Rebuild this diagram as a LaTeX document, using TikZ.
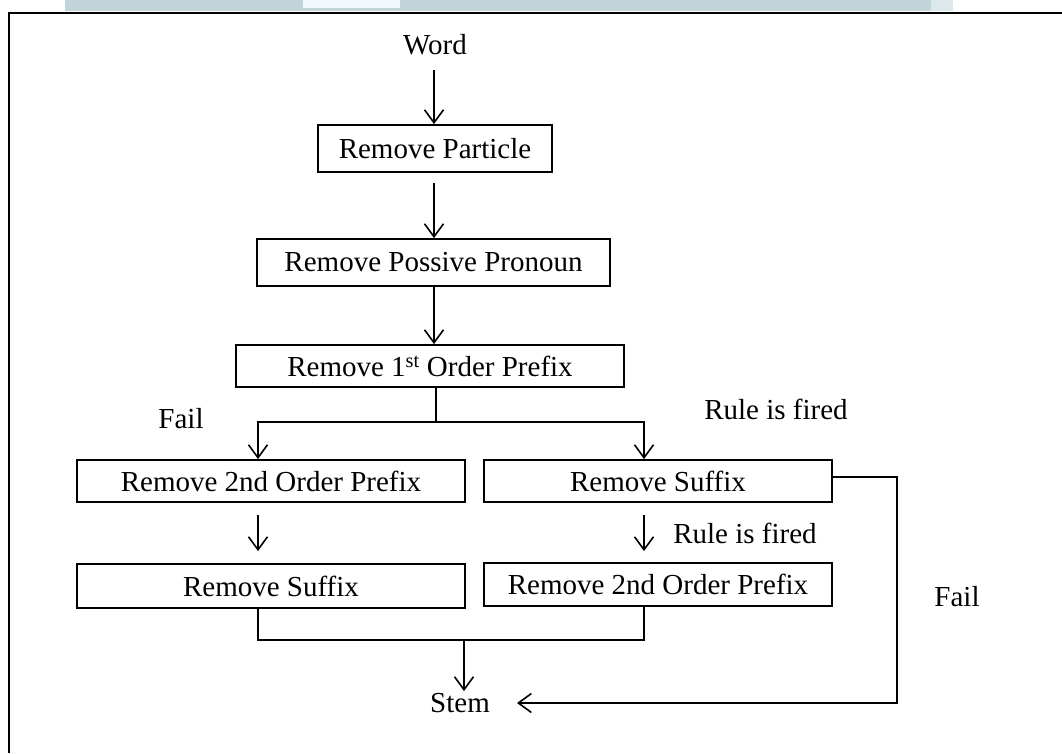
\documentclass[tikz,border=0pt]{standalone}
\usepackage{fontspec}
\setmainfont{Liberation Serif}
\usetikzlibrary{arrows.meta,calc}
\definecolor{barteal}{HTML}{C1D4DA}
\definecolor{barwhite}{HTML}{F0F8FB}
\definecolor{barlight}{HTML}{DCE8EC}
\begin{document}
\begin{tikzpicture}[x=1pt,y=-1pt,
  every node/.style={font=\fontsize{29}{34}\selectfont, inner sep=0pt},
  procbox/.style={draw, line width=1.8pt, minimum height=#1},
  procbox/.default=44,
  conn/.style={line width=1.6pt},
  arr/.style={conn, -{Straight Barb[length=13pt,width=19pt,line width=1.6pt]}},
  lbl/.style={anchor=center}]
\useasboundingbox (0,0) rectangle (1062,753);
% top banner and frame
\fill[barteal] (65,0) rectangle (931,11);
\fill[barwhite] (303,0) rectangle (400,8);
\fill[barlight] (931,0) rectangle (953,11);
\draw[line width=2.5pt] (1062,13) -- (9,13) -- (9,753);

% nodes
\node (word) [minimum height=50] at (435,45) {Word};
\node (part) [procbox=47, minimum width=234] at (435,148.5) {Remove Particle};
\node (poss) [procbox=47, minimum width=353] at (433.5,262.5) {Remove Possive Pronoun};
\node (first) [procbox=42, minimum width=388] at (430,366) {Remove 1\textsuperscript{st} Order Prefix};
\node (secL) [procbox=42, minimum width=388] at (271,481) {Remove 2nd Order Prefix};
\node (sufR) [procbox=42, minimum width=348] at (658,481) {Remove Suffix};
\node (sufL) [procbox=44, minimum width=388] at (271,586) {Remove Suffix};
\node (secR) [procbox=43, minimum width=348] at (658,584.5) {Remove 2nd Order Prefix};
\node (stem) at (460,703) {Stem};

% labels
\node (failL) [lbl] at (181,419) {Fail};
\node (rule1) [lbl] at (776,409) {Rule is fired};
\node (rule2) [lbl] at (745,533) {Rule is fired};
\node (failR) [lbl] at (957,597) {Fail};

% helper coordinates
\coordinate (cL) at (258,0);
\coordinate (cR) at (644,0);
\coordinate (cM) at (434,0);
\coordinate (j1) at (436,422);
\coordinate (j2) at (464,640);
\coordinate (fr) at (897,477);

% connectors
\draw[arr] (cM |- word.south) -- (cM |- part.north);
\draw[arr] ($(cM |- part.south)+(0,10)$) -- (cM |- poss.north);
\draw[arr] (cM |- poss.south) -- (cM |- first.north);
\draw[conn] (j1 |- first.south) -- (j1);
\draw[arr] (j1) -| (cL |- secL.north);
\draw[arr] (j1) -| (cR |- sufR.north);
\draw[arr] ($(cL |- secL.south)+(0,12)$) -- ($(cL |- sufL.north)+(0,-12)$);
\draw[arr] ($(cR |- sufR.south)+(0,12)$) -- ($(cR |- secR.north)+(0,-11)$);
\draw[conn] (cL |- sufL.south) |- (cR |- j2) -- (cR |- secR.south);
\draw[arr] (j2) -- ($(j2 |- stem.north)+(0,-2)$);
\draw[arr] (fr -| sufR.east) -- (fr) |- ($(stem.east)+(27,0)$);
\end{tikzpicture}
\end{document}
